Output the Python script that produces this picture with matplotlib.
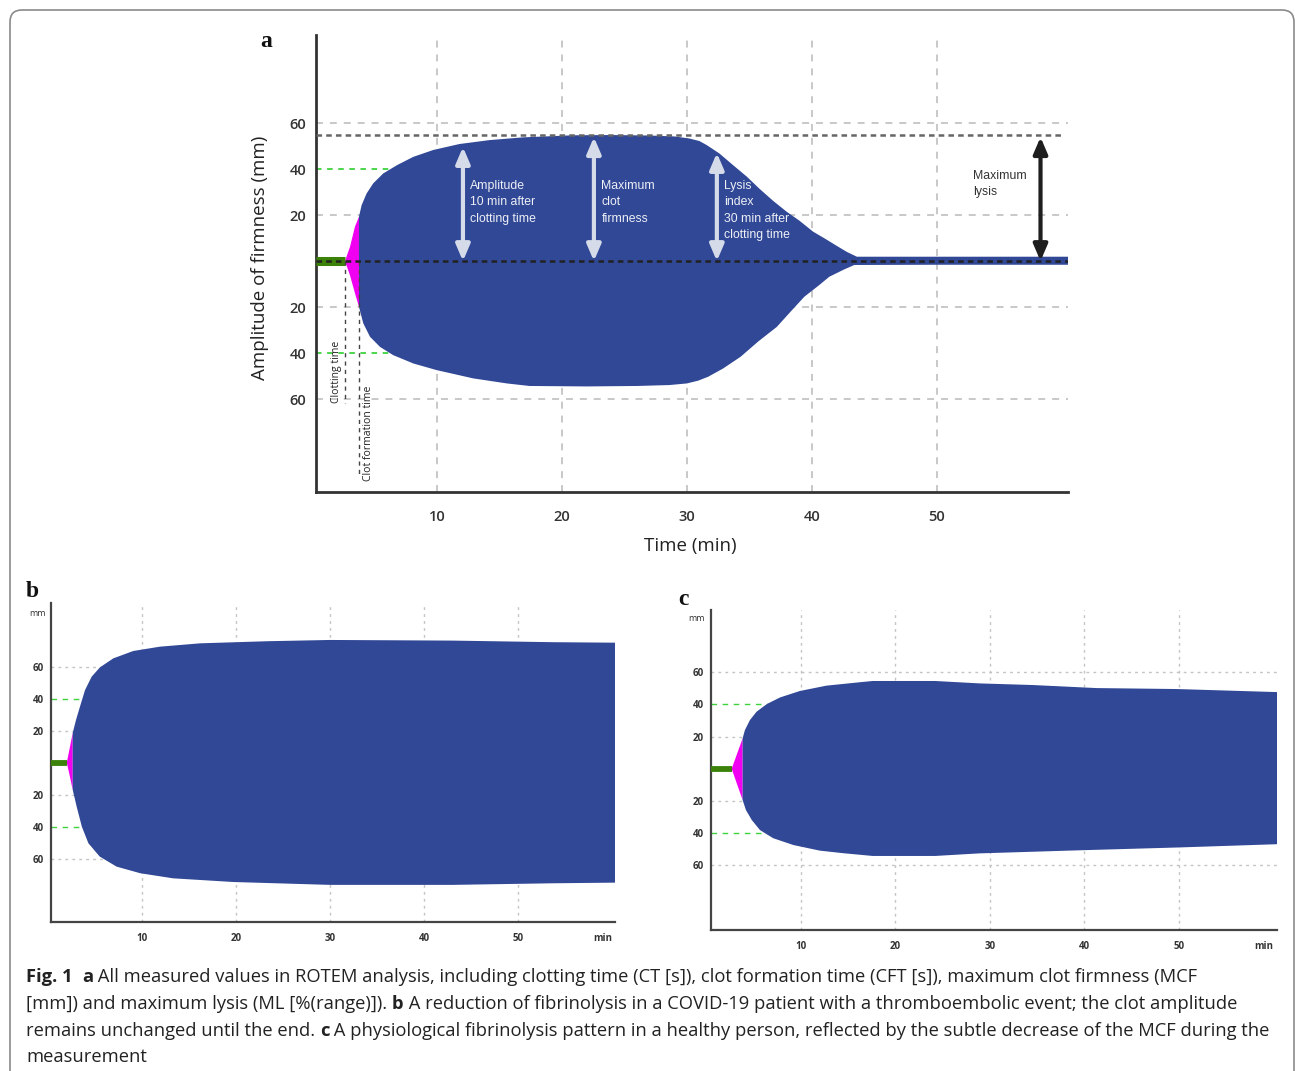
import numpy as np
import matplotlib.pyplot as plt
from matplotlib.patches import FancyBboxPatch

plt.rcParams['lines.scale_dashes'] = False

W, H = 1295, 1071

# ---------------- data ----------------
# panel a: ROTEM trace with lysis (upper and lower edge of the trace, mm)
a_up_time = [2.64, 3.04, 3.44, 3.76, 3.97, 4.37, 4.9, 5.7, 6.8, 8.1, 9.7, 11.8, 14.2, 16.9, 20.9, 24.0,
             27.0, 29.0, 30.2, 31.0, 31.6, 32.6, 33.7, 34.8, 35.8, 36.9, 38.0, 39.0, 40.1, 41.1,
             42.0, 42.8, 43.6, 50.0, 60.5]
a_up = [0, 6.2, 15, 19.3, 24.3, 29.4, 33.8, 38.1, 41.7, 45.3, 48.3, 50.9, 52.6, 53.8, 54.7, 54.8,
        54.6, 54.2, 53.3, 52.2, 50.4, 46.8, 41.7, 36.7, 31.5, 26.2, 21.4, 17.6, 12.8, 9.6,
        6.6, 4.0, 1.9, 1.9, 1.9]
a_lo_time = [2.64, 3.04, 3.44, 3.76, 4.1, 4.64, 5.44, 6.5, 8.1, 9.97, 12.9, 15.6, 17.4, 22.0, 26.0,
             28.6, 30.0, 30.9, 31.7, 32.9, 34.3, 35.7, 37.2, 38.3, 39.4, 40.6, 41.4, 42.6, 43.4,
             50.0, 60.5]
a_lo = [0, -6.2, -14, -19.9, -27, -32.9, -37.3, -40.9, -44.5, -47.4, -51, -53.2, -54.3, -54.5, -54.3,
        -53.9, -53.2, -52, -50.3, -46.7, -41.6, -35, -28.6, -22, -15.5, -10.4, -6.8, -3.6, -1.7,
        -1.6, -1.6]
a_ct, a_cft = 2.64, 3.76
a_mcf = 54.8
a_arrow_time = [12.08, 22.56, 32.4]
a_arrow_top = [49.6, 53.9, 47.0]
a_arrow_text = ['Amplitude\n10 min after\nclotting time',
                'Maximum\nclot\nfirmness',
                'Lysis\nindex\n30 min after\nclotting time']
a_ml_time, a_ml_top = 58.3, 53.9

# panel b: reduced fibrinolysis
b_up_time = [2.0, 2.34, 2.63, 2.98, 3.4, 3.94, 4.65, 5.53, 6.95, 9.07, 11.9, 16.2, 23.3, 30, 43, 53.7, 60.3]
b_up = [0, 10, 18.6, 26.7, 35, 45.4, 53.8, 59.6, 65.2, 69.8, 72.5, 74.6, 75.9, 76.7, 76.3, 75.3, 75.0]
b_lo_time = [2.0, 2.34, 2.63, 3.05, 3.6, 4.3, 5.5, 7.3, 9.8, 13.3, 19.7, 30, 43, 53.7, 60.3]
b_lo = [0, -9, -17, -27.5, -40, -50.4, -58.7, -65, -69.1, -72.3, -74.6, -76.4, -76.4, -75.4, -75.0]
b_ct, b_cft = 2.0, 2.63

# panel c: physiological fibrinolysis
c_up_time = [2.67, 3.26, 3.83, 4.07, 4.6, 5.3, 6.4, 7.8, 9.9, 12.7, 16.2, 17.6, 24.2, 28.9, 34.5,
             41.3, 49.8, 60.4]
c_up = [0, 9.6, 18.9, 24, 30.2, 35.4, 40.2, 44.3, 48.3, 51.6, 53.7, 54.5, 54.5, 53, 52,
        50.1, 49.5, 47.6]
c_lo_time = [2.67, 3.26, 3.83, 4.18, 4.8, 5.66, 7.07, 9.2, 12.0, 14.5, 17.6, 24.2, 28.9, 39.4, 50.1, 60.4]
c_lo = [0, -10, -19.5, -25.7, -31.9, -38.1, -43.2, -47.4, -50.9, -52.5, -54.2, -54.2, -52.6, -50.7,
        -48.9, -46.9]
c_ct, c_cft = 2.67, 3.83

grid_x = [10, 20, 30, 40, 50]
grid_y = [20, 60, -20, -60]
green_y = [40, -40]
y_ticks = [60, 40, 20, -20, -40, -60]
small_x_ticks = [10, 20, 30, 40, 50, 59]
small_x_labels = ['10', '20', '30', '40', '50', 'min']

caption = [
    [('Fig. 1', True), ('  ', False), ('a', True),
     (' All measured values in ROTEM analysis, including clotting time (CT [s]), clot formation time (CFT [s]), maximum clot firmness (MCF', False)],
    [('[mm]) and maximum lysis (ML [%(range)]). ', False), ('b', True),
     (' A reduction of fibrinolysis in a COVID-19 patient with a thromboembolic event; the clot amplitude', False)],
    [('remains unchanged until the end. ', False), ('c', True),
     (' A physiological fibrinolysis pattern in a healthy person, reflected by the subtle decrease of the MCF during the', False)],
    [('measurement', False)],
]

BLUE = '#314896'
PINK = '#f000f0'
GREEN = '#3c820a'
LGREEN = '#3fd23f'
GRID = '#c4c4c4'

fig = plt.figure(figsize=(W / 100, H / 100), dpi=100)

# overlay in pixel coordinates for frame, caption and free labels
ov = fig.add_axes([0, 0, 1, 1], zorder=-5)
ov.set_xlim(0, W)
ov.set_ylim(H, 0)
ov.axis('off')
ov.add_patch(FancyBboxPatch((10, 10), 1284, 1075, boxstyle='round,pad=0,rounding_size=12',
                            fc='none', ec='#8a8a8a', lw=1.2))


def px_axes(l, t, r, b):
    return fig.add_axes([l / W, 1 - b / H, (r - l) / W, (b - t) / H])


def trace_poly(ut, up, lt, lo, keep):
    # polygon: upper edge left->right, lower edge right->left
    ut, up, lt, lo = map(np.asarray, (ut, up, lt, lo))
    mu, ml = keep(ut), keep(lt)
    xs = np.concatenate([ut[mu], lt[ml][::-1]])
    ys = np.concatenate([up[mu], lo[ml][::-1]])
    return xs, ys


def draw_panel(ax, ut, up, lt, lo, ct, cft, xlim, ylim, bar_lw, grid_lw, dash):
    ax.set_xlim(*xlim)
    ax.set_ylim(*ylim)
    for s in ['top', 'right']:
        ax.spines[s].set_visible(False)
    for x in grid_x:
        ax.axvline(x, color=GRID, lw=grid_lw, dashes=dash, zorder=1)
    for y in grid_y:
        ax.axhline(y, color=GRID, lw=grid_lw, dashes=dash, zorder=1)
    up_arr = np.asarray(up)
    imax = int(np.argmax(up_arr))
    x40 = np.interp(40, up_arr[:imax + 1], np.asarray(ut)[:imax + 1])
    for y in green_y:
        ax.plot([xlim[0], x40 + 0.6], [y, y], color=LGREEN, lw=grid_lw, dashes=(4, 4), zorder=2)
    xs, ys = trace_poly(ut, up, lt, lo, lambda t: t <= cft)
    ax.fill(xs, ys, color=PINK, lw=0, zorder=3)
    xs, ys = trace_poly(ut, up, lt, lo, lambda t: t >= cft)
    ax.fill(xs, ys, color=BLUE, lw=0, zorder=3)
    ax.plot([xlim[0], ct], [0, 0], color=GREEN, lw=bar_lw, solid_capstyle='butt', zorder=4, clip_on=False)
    ax.set_yticks(y_ticks)
    ax.set_yticklabels([str(abs(v)) for v in y_ticks])
    ax.tick_params(length=0)


# ---------------- panel a ----------------
ax = px_axes(316, 35, 1068, 492)
draw_panel(ax, a_up_time, a_up, a_lo_time, a_lo, a_ct, a_cft, (0.32, 60.5), (-100.4, 98.3), 6.5, 1.3, (5, 5))
for s in ['left', 'bottom']:
    ax.spines[s].set_color('#333333')
    ax.spines[s].set_linewidth(2)
ax.set_xticks(grid_x)
ax.tick_params(axis='y', pad=7, labelsize=10.5, labelcolor='#333333')
ax.tick_params(axis='x', pad=13, labelsize=10.5, labelcolor='#333333')
for lab in ax.get_xticklabels() + ax.get_yticklabels():
    lab.set_family('Open Sans')
    lab.set_fontweight('semibold')

ax.plot([0.32, 60.5], [0, 0], color='#222222', lw=1.8, dashes=(4, 3), zorder=6)
ax.plot([0.32, 60.0], [a_mcf, a_mcf], color='#666666', lw=1.8, dashes=(4, 3), zorder=6)
ax.plot([a_ct, a_ct], [0, -61.7], color='#444444', lw=1, dashes=(3, 3), zorder=5)
ax.plot([a_cft, a_cft], [0, -94], color='#444444', lw=1, dashes=(3, 3), zorder=5)
ax.text(2.0, -48, 'Clotting time', rotation=90, ha='center', va='center', fontsize=7.5,
        family='Open Sans', color='#222222', zorder=7)
ax.text(4.5, -75, 'Clot formation time', rotation=90, ha='center', va='center', fontsize=7.5,
        family='Open Sans', color='#222222', zorder=7)

for tx, top, label in zip(a_arrow_time, a_arrow_top, a_arrow_text):
    ax.annotate('', xy=(tx, top), xytext=(tx, 0),
                arrowprops=dict(arrowstyle='<|-|>,head_length=0.7,head_width=0.3', color='#d5dbe8',
                                lw=3, shrinkA=0, shrinkB=0, mutation_scale=14), zorder=7)
    ax.text(tx + 0.6, 35.3, label, color='#eef0f6', fontsize=8.8, family='Liberation Sans',
            va='top', ha='left', linespacing=1.5, zorder=7)
ax.annotate('', xy=(a_ml_time, a_ml_top), xytext=(a_ml_time, 0),
            arrowprops=dict(arrowstyle='<|-|>,head_length=0.7,head_width=0.3', color='#1e1e1e',
                            lw=3, shrinkA=0, shrinkB=0, mutation_scale=14), zorder=7)
ax.text(52.9, 39.8, 'Maximum\nlysis', color='#333333', fontsize=8.8, family='Liberation Sans',
        va='top', ha='left', linespacing=1.5, zorder=7)

ov.text(260, 258, 'Amplitude of firmness (mm)', rotation=90, ha='center', va='center',
        fontsize=13.5, family='Open Sans', color='#222222')
ov.text(690, 546, 'Time (min)', ha='center', va='center', fontsize=13.5, family='Open Sans', color='#222222')

# ---------------- panels b and c ----------------
for (l, t, r, b), data, lims in [
        ((51, 603, 615, 922), (b_up_time, b_up, b_lo_time, b_lo, b_ct, b_cft), ((0.32, 60.3), (-99.6, 99.8))),
        ((711, 610, 1277, 930), (c_up_time, c_up, c_lo_time, c_lo, c_ct, c_cft), ((0.48, 60.4), (-100.2, 98.6)))]:
    ax = px_axes(l, t, r, b)
    draw_panel(ax, *data, lims[0], lims[1], 4.2, 1.0, (2, 3))
    for s in ['left', 'bottom']:
        ax.spines[s].set_color('#444444')
        ax.spines[s].set_linewidth(1.6)
    ax.set_xticks(small_x_ticks)
    ax.set_xticklabels(small_x_labels)
    ax.tick_params(axis='y', pad=5, labelsize=7, labelcolor='#333333')
    ax.tick_params(axis='x', pad=8, labelsize=7, labelcolor='#333333')
    for lab in ax.get_xticklabels() + ax.get_yticklabels():
        lab.set_family('Open Sans')
        lab.set_fontweight('bold')
    ax.text(-1.1, 93.5, 'mm', ha='center', va='center', fontsize=6.5, family='Open Sans',
            color='#333333', clip_on=False)

# panel letters
for x, y, letter in [(266, 47, 'a'), (32, 597, 'b'), (683, 605, 'c')]:
    ov.text(x, y, letter, ha='center', va='baseline', fontsize=17, fontweight='bold',
            family='Liberation Serif', color='#111111')

# ---------------- caption ----------------
renderer = fig.canvas.get_renderer()
for i, runs in enumerate(caption):
    x = 26
    y = 982 + i * 26.8
    for txt, bold in runs:
        tt = ov.text(x, y, txt, ha='left', va='baseline', fontsize=13.25, family='Open Sans',
                     fontweight='bold' if bold else 'normal', color='#222222')
        x += tt.get_window_extent(renderer=renderer).width

fig.savefig('out.png', dpi=100)
